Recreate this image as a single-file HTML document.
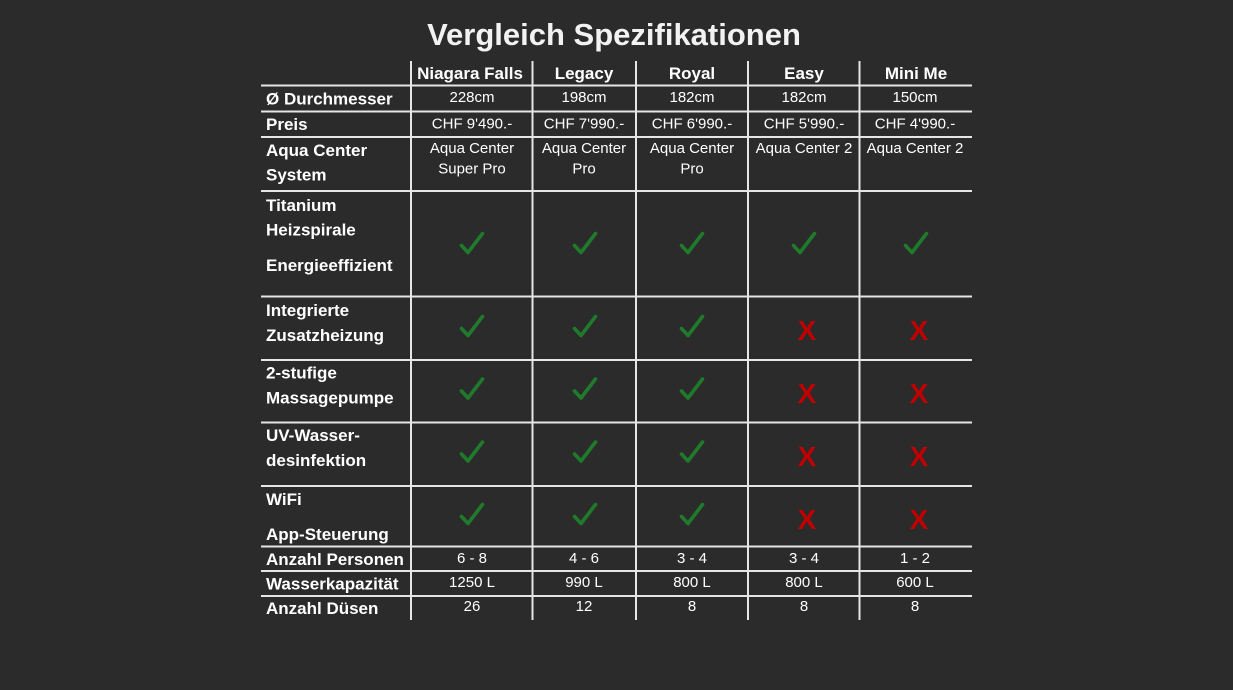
<!DOCTYPE html>
<html>
<head>
<meta charset="utf-8">
<style>
  html, body { margin:0; padding:0; background:#2b2b2b; }
  body { width:1233px; height:690px; overflow:hidden; }
  svg { display:block; }
  .t { font-family:"Liberation Sans", Arial, sans-serif; fill:#f2f2f2; font-weight:bold; }
  .h { font-family:"Liberation Sans", Arial, sans-serif; fill:#ffffff; font-weight:bold; font-size:17px; text-anchor:middle; }
  .l { font-family:"Liberation Sans", Arial, sans-serif; fill:#ffffff; font-weight:bold; font-size:17px; }
  .v { font-family:"Liberation Sans", Arial, sans-serif; fill:#ffffff; font-size:15px; text-anchor:middle; }
  .x { font-family:"Liberation Sans", Arial, sans-serif; fill:#c00000; font-weight:bold; font-size:28px; text-anchor:middle; }
  .ck { fill:none; stroke:#1f7a2c; stroke-width:3.6; stroke-linecap:round; stroke-linejoin:round; }
  .ln { stroke:#e6e6e6; stroke-width:2; }
</style>
</head>
<body>
<svg width="1233" height="690" viewBox="0 0 1233 690" xmlns="http://www.w3.org/2000/svg">
  <rect width="1233" height="690" fill="#2b2b2b"/>
  <text class="t" x="614" y="45" font-size="31" text-anchor="middle">Vergleich Spezifikationen</text>

  <!-- horizontal lines -->
  <g class="ln">
    <line x1="261" y1="85.5" x2="972" y2="85.5"/>
    <line x1="261" y1="111.5" x2="972" y2="111.5"/>
    <line x1="261" y1="137" x2="972" y2="137"/>
    <line x1="261" y1="191" x2="972" y2="191"/>
    <line x1="261" y1="296.5" x2="972" y2="296.5"/>
    <line x1="261" y1="360" x2="972" y2="360"/>
    <line x1="261" y1="422.5" x2="972" y2="422.5"/>
    <line x1="261" y1="486" x2="972" y2="486"/>
    <line x1="261" y1="546.5" x2="972" y2="546.5"/>
    <line x1="261" y1="571" x2="972" y2="571"/>
    <line x1="261" y1="596" x2="972" y2="596"/>
  </g>
  <!-- vertical lines -->
  <g class="ln">
    <line x1="411" y1="61" x2="411" y2="620"/>
    <line x1="532.5" y1="61" x2="532.5" y2="620"/>
    <line x1="636" y1="61" x2="636" y2="620"/>
    <line x1="748" y1="61" x2="748" y2="620"/>
    <line x1="859.5" y1="61" x2="859.5" y2="620"/>
  </g>

  <!-- headers -->
  <text class="h" x="470" y="79">Niagara Falls</text>
  <text class="h" x="584" y="79">Legacy</text>
  <text class="h" x="692" y="79">Royal</text>
  <text class="h" x="804" y="79">Easy</text>
  <text class="h" x="916" y="79">Mini Me</text>

  <!-- labels -->
  <text class="l" x="266" y="104.5">Ø Durchmesser</text>
  <text class="l" x="266" y="130">Preis</text>
  <text class="l" x="266" y="156">Aqua Center</text>
  <text class="l" x="266" y="180.5">System</text>
  <text class="l" x="266" y="211">Titanium</text>
  <text class="l" x="266" y="235.5">Heizspirale</text>
  <text class="l" x="266" y="271">Energieeffizient</text>
  <text class="l" x="266" y="316">Integrierte</text>
  <text class="l" x="266" y="341">Zusatzheizung</text>
  <text class="l" x="266" y="378.5">2-stufige</text>
  <text class="l" x="266" y="403.5">Massagepumpe</text>
  <text class="l" x="266" y="441">UV-Wasser-</text>
  <text class="l" x="266" y="466">desinfektion</text>
  <text class="l" x="266" y="505">WiFi</text>
  <text class="l" x="266" y="540">App-Steuerung</text>
  <text class="l" x="266" y="565">Anzahl Personen</text>
  <text class="l" x="266" y="589.5">Wasserkapazität</text>
  <text class="l" x="266" y="614">Anzahl Düsen</text>

  <!-- Durchmesser -->
  <text class="v" x="472" y="102">228cm</text>
  <text class="v" x="584" y="102">198cm</text>
  <text class="v" x="692" y="102">182cm</text>
  <text class="v" x="804" y="102">182cm</text>
  <text class="v" x="915" y="102">150cm</text>
  <!-- Preis -->
  <text class="v" x="472" y="128.5">CHF 9'490.-</text>
  <text class="v" x="584" y="128.5">CHF 7'990.-</text>
  <text class="v" x="692" y="128.5">CHF 6'990.-</text>
  <text class="v" x="804" y="128.5">CHF 5'990.-</text>
  <text class="v" x="915" y="128.5">CHF 4'990.-</text>
  <!-- Aqua Center -->
  <text class="v" x="472" y="153">Aqua Center</text>
  <text class="v" x="472" y="173.5">Super Pro</text>
  <text class="v" x="584" y="153">Aqua Center</text>
  <text class="v" x="584" y="173.5">Pro</text>
  <text class="v" x="692" y="153">Aqua Center</text>
  <text class="v" x="692" y="173.5">Pro</text>
  <text class="v" x="804" y="153">Aqua Center 2</text>
  <text class="v" x="915" y="153">Aqua Center 2</text>

  <!-- checks -->
  <defs>
    <path id="ck" d="M0,12 L6.5,19 L21,0"/>
  </defs>
  <!-- Titanium row (all) -->
  <g class="ck">
    <use href="#ck" x="461.5" y="233.5"/>
    <use href="#ck" x="574.5" y="233.5"/>
    <use href="#ck" x="681.5" y="233.5"/>
    <use href="#ck" x="793.5" y="233.5"/>
    <use href="#ck" x="905.5" y="233.5"/>
    <!-- Integrierte -->
    <use href="#ck" x="461.5" y="316.5"/>
    <use href="#ck" x="574.5" y="316.5"/>
    <use href="#ck" x="681.5" y="316.5"/>
    <!-- 2-stufige -->
    <use href="#ck" x="461.5" y="379"/>
    <use href="#ck" x="574.5" y="379"/>
    <use href="#ck" x="681.5" y="379"/>
    <!-- UV -->
    <use href="#ck" x="461.5" y="442"/>
    <use href="#ck" x="574.5" y="442"/>
    <use href="#ck" x="681.5" y="442"/>
    <!-- WiFi -->
    <use href="#ck" x="461.5" y="504.5"/>
    <use href="#ck" x="574.5" y="504.5"/>
    <use href="#ck" x="681.5" y="504.5"/>
  </g>

  <!-- X marks -->
  <text class="x" x="807" y="340">X</text>
  <text class="x" x="919" y="340">X</text>
  <text class="x" x="807" y="403">X</text>
  <text class="x" x="919" y="403">X</text>
  <text class="x" x="807" y="466">X</text>
  <text class="x" x="919" y="466">X</text>
  <text class="x" x="807" y="529">X</text>
  <text class="x" x="919" y="529">X</text>

  <!-- Personen -->
  <text class="v" x="472" y="563">6 - 8</text>
  <text class="v" x="584" y="563">4 - 6</text>
  <text class="v" x="692" y="563">3 - 4</text>
  <text class="v" x="804" y="563">3 - 4</text>
  <text class="v" x="915" y="563">1 - 2</text>
  <!-- Wasser -->
  <text class="v" x="472" y="587">1250 L</text>
  <text class="v" x="584" y="587">990 L</text>
  <text class="v" x="692" y="587">800 L</text>
  <text class="v" x="804" y="587">800 L</text>
  <text class="v" x="915" y="587">600 L</text>
  <!-- Düsen -->
  <text class="v" x="472" y="611">26</text>
  <text class="v" x="584" y="611">12</text>
  <text class="v" x="692" y="611">8</text>
  <text class="v" x="804" y="611">8</text>
  <text class="v" x="915" y="611">8</text>
</svg>
</body>
</html>
